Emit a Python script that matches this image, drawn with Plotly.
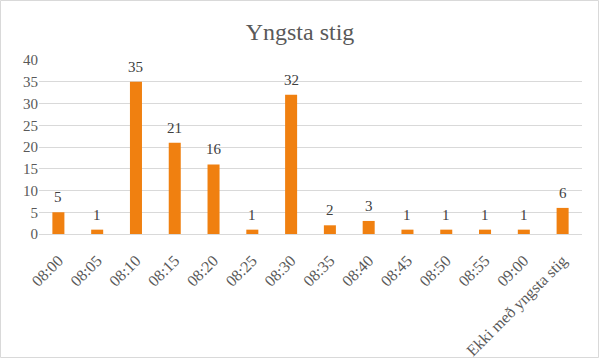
import plotly.graph_objects as go

categories = ["08:00", "08:05", "08:10", "08:15", "08:20", "08:25", "08:30",
              "08:35", "08:40", "08:45", "08:50", "08:55", "09:00", "Ekki með yngsta stig"]
values = [5, 1, 35, 21, 16, 1, 32, 2, 3, 1, 1, 1, 1, 6]

ML, MR, MT, MB = 39, 18, 60, 126
W, H = 600, 360
pw, ph = W - ML - MR, H - MT - MB
SERIF = "'Liberation Serif', 'Times New Roman', 'DejaVu Serif', serif"

def px2x(px):
    return (px - ML) / pw

def py2y(py):
    return (H - MB - py) / ph

fig = go.Figure(go.Bar(
    x=categories, y=values,
    marker=dict(color="#F08010", line=dict(width=0)),
    cliponaxis=False,
))

for c, v in zip(categories, values):
    fig.add_annotation(x=c, y=v, text=str(v), showarrow=False, xanchor="center",
                       yanchor="middle", yshift=15,
                       font=dict(family=SERIF, size=15, color="#404040"))

fig.update_layout(
    width=W, height=H,
    margin=dict(l=ML, r=MR, t=MT, b=MB),
    paper_bgcolor="white", plot_bgcolor="white",
    title=dict(text="Yngsta stig", x=0.5, xanchor="center", y=0.912, yanchor="middle",
               font=dict(family=SERIF, size=24, color="#595959")),
    bargap=0.69,
    showlegend=False,
    font=dict(family=SERIF, size=14, color="#595959"),
    xaxis=dict(tickangle=-45, showgrid=False, showline=True, linecolor="#d9d9d9",
               tickfont=dict(family=SERIF, size=16, color="#595959"),
               ticks="", automargin=False, ticklabelstandoff=10),
    yaxis=dict(range=[0, 40], dtick=5, showgrid=True, gridcolor="#d9d9d9",
               zeroline=False, showline=False, ticks="", automargin=False,
               tickfont=dict(family=SERIF, size=15, color="#595959")),
    shapes=[dict(type="rect", xref="paper", yref="paper",
                 x0=px2x(0.5), x1=px2x(598.5), y0=py2y(357.5), y1=py2y(0.5),
                 line=dict(color="#d9d9d9", width=1), fillcolor="rgba(0,0,0,0)")],
)

fig.write_html("out.html", config={"displayModeBar": False},
               post_script="document.body.style.margin='0';")
